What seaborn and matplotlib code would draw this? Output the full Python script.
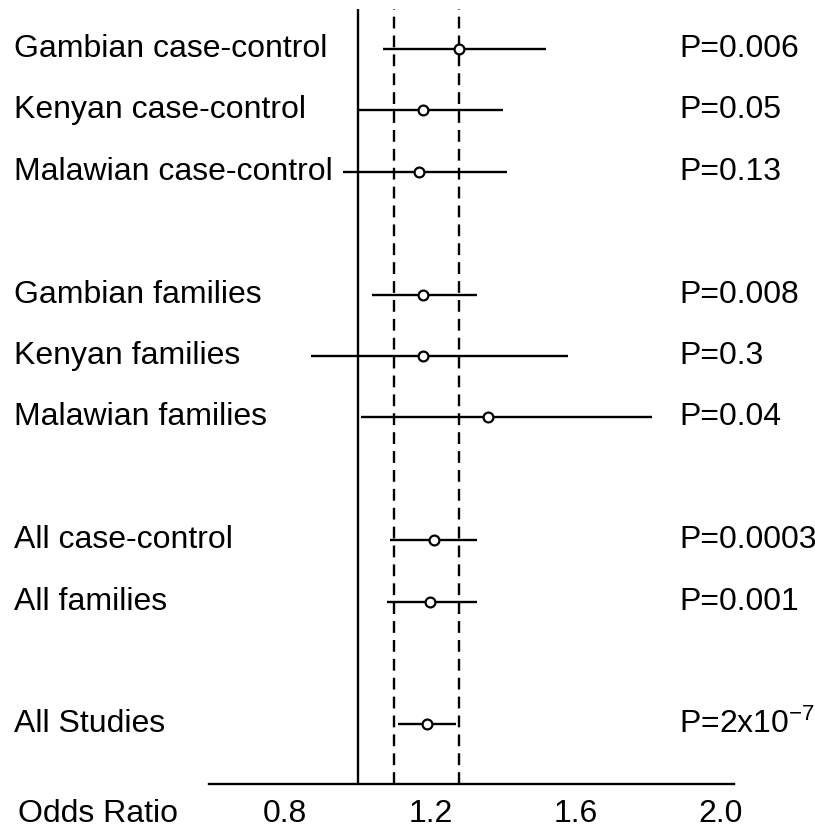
import matplotlib
matplotlib.use("Agg")
import matplotlib.pyplot as plt
import matplotlib.transforms as mtransforms
import numpy as np
import pandas as pd
import seaborn as sns

studies = ["Gambian case-control", "Kenyan case-control", "Malawian case-control",
           "Gambian families", "Kenyan families", "Malawian families",
           "All case-control", "All families", "All Studies"]
groups = ["case-control"] * 3 + ["families"] * 3 + ["combined"] * 2 + ["overall"]
odds_ratio = [1.28, 1.18, 1.17, 1.18, 1.18, 1.36, 1.21, 1.20, 1.19]
ci_low = [1.07, 1.00, 0.96, 1.04, 0.87, 1.01, 1.09, 1.08, 1.11]
ci_high = [1.52, 1.40, 1.41, 1.33, 1.58, 1.81, 1.33, 1.33, 1.27]
p_labels = ["P=0.006", "P=0.05", "P=0.13", "P=0.008", "P=0.3", "P=0.04",
            "P=0.0003", "P=0.001", "P=2x10$^{-7}$"]
null_value = 1.0
ref_lines = [1.10, 1.28]
tick_values = [0.6, 0.8, 1.0, 1.2, 1.4, 1.6, 1.8, 2.0]
tick_labels = ["", "0.8", "", "1.2", "", "1.6", "", "2.0"]

# row positions: one blank row between groups
row = []
k = 0
for i, g in enumerate(groups):
    if i > 0 and g != groups[i - 1]:
        k += 1
    row.append(k)
    k += 1

df = pd.DataFrame({"study": studies, "or": odds_ratio, "lo": ci_low,
                   "hi": ci_high, "p": p_labels, "row": row})

sns.set_style("white")
plt.rcParams["font.family"] = ["Liberation Sans", "DejaVu Sans"]
plt.rcParams["mathtext.default"] = "regular"
plt.rcParams["text.color"] = "black"
fs = 23

W, H = 815, 831
fig = plt.figure(figsize=(W / 100, H / 100), dpi=100)
ax = fig.add_axes([209 / W, (H - 784) / H, (734 - 209) / W, (784 - 9) / H])

ax.axvline(null_value, color="black", lw=1.7, zorder=1)
for v in ref_lines:
    ax.axvline(v, color="black", lw=1.7, linestyle=(0, (5, 3)), zorder=1)

ax.hlines(df["row"], df["lo"], df["hi"], color="black", lw=1.7, zorder=2)
sns.scatterplot(data=df, x="or", y="row", ax=ax, marker="o", s=50,
                facecolor="white", edgecolor="black", linewidth=1.6, zorder=3)

ax.set_xlim(0.59, 2.037)
ax.set_ylim(11.97, -0.65)
ax.set_xticks(tick_values)
ax.set_xticklabels(tick_labels, fontsize=fs)
ax.set_yticks([])
ax.set_xlabel("")
ax.set_ylabel("")
ax.tick_params(axis="x", direction="in", length=4.5, width=1.5, pad=11,
               colors="black")
for s in ["left", "top", "right"]:
    ax.spines[s].set_visible(False)
ax.spines["bottom"].set_linewidth(1.7)
ax.spines["bottom"].set_color("black")

tr = mtransforms.blended_transform_factory(fig.transFigure, ax.transData)
for _, r in df.iterrows():
    ax.text(14 / W, r["row"], r["study"], transform=tr, fontsize=fs,
            ha="left", va="center", clip_on=False)
    ax.text(679 / W, r["row"], r["p"], transform=tr, fontsize=fs,
            ha="left", va="center", clip_on=False)

fig.text(18 / W, (H - 814) / H, "Odds Ratio", fontsize=fs, ha="left", va="center")

fig.savefig("out.png", dpi=100)
